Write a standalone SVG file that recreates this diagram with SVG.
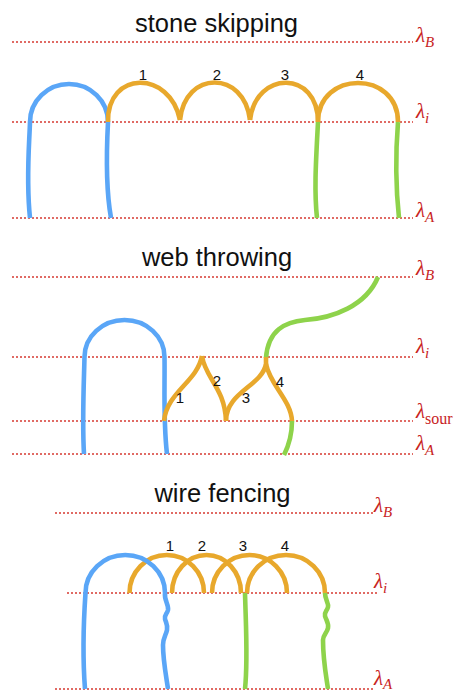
<svg xmlns="http://www.w3.org/2000/svg" width="458" height="693" viewBox="0 0 458 693">
<style>
.title{font-family:"Liberation Sans",Arial,sans-serif;font-size:25.5px;fill:#111;text-anchor:middle}
.num{font-family:"Liberation Sans",Arial,sans-serif;font-size:15px;fill:#111;text-anchor:middle}
.lam{font-family:"Liberation Serif","Times New Roman",serif;font-style:italic;font-size:21px;fill:#c8231e}
.sub{font-size:15px}
.subr{font-size:16px;font-style:normal}
.lvl{stroke:#d63a32;stroke-width:1.3;stroke-dasharray:2 2;fill:none}
.c{fill:none;stroke-width:4.6;stroke-linejoin:round;stroke-linecap:butt}
.blue{stroke:#5aa6f7}
.orange{stroke:#e8a82c}
.green{stroke:#8ed34b}
</style>
<rect width="458" height="693" fill="#fff"/>

<!-- Section 1: stone skipping -->
<g id="stone-skipping">
  <text class="title" x="216.5" y="31.5">stone skipping</text>
  <g id="levels-1">
    <line class="lvl" x1="12" y1="42" x2="413" y2="42"/>
    <line class="lvl" x1="12" y1="122" x2="413" y2="122"/>
    <line class="lvl" x1="12" y1="218" x2="413" y2="218"/>
    <text class="lam" x="416" y="42">λ<tspan class="sub" dy="5">B</tspan></text>
    <text class="lam" x="416" y="118">λ<tspan class="sub" dy="5">i</tspan></text>
    <text class="lam" x="416" y="217">λ<tspan class="sub" dy="5">A</tspan></text>
  </g>
  <g id="connectors-1">
    <path class="c blue" d="M30,218 C26,180 29,150 30,122 A39,38 0 0 1 108,122 C106,160 106,190 111,218"/>
    <path class="c green" d="M318,122 C316,160 314,190 317,218"/>
    <path class="c green" d="M398,122 C395,160 396,190 399,218"/>
    <path class="c orange" d="M108,122 C107,70 170,70 180,120"/>
    <path class="c orange" d="M180,120 C185,70 244,70 250,120"/>
    <path class="c orange" d="M250,120 C256,70 318,70 318,122"/>
    <path class="c orange" d="M318,122 C318,70 398,70 398,122"/>
  </g>
  <text class="num" x="143" y="80">1</text>
  <text class="num" x="217" y="80">2</text>
  <text class="num" x="285" y="80">3</text>
  <text class="num" x="360" y="80">4</text>
</g>

<!-- Section 2: web throwing -->
<g id="web-throwing">
  <text class="title" x="217" y="265.5">web throwing</text>
  <g id="levels-2">
    <line class="lvl" x1="12" y1="277" x2="413" y2="277"/>
    <line class="lvl" x1="12" y1="357" x2="413" y2="357"/>
    <line class="lvl" x1="12" y1="421" x2="413" y2="421"/>
    <line class="lvl" x1="12" y1="454" x2="413" y2="454"/>
    <text class="lam" x="416" y="275">λ<tspan class="sub" dy="5">B</tspan></text>
    <text class="lam" x="416" y="353">λ<tspan class="sub" dy="5">i</tspan></text>
    <text class="lam" x="416" y="418">λ<tspan class="subr" dy="6">sour</tspan></text>
    <text class="lam" x="416" y="450">λ<tspan class="sub" dy="5">A</tspan></text>
  </g>
  <g id="connectors-2">
    <path class="c blue" d="M84,454 C82,420 84,380 84.5,357 A40,37 0 0 1 164.5,357 C165,385 163,420 167,454"/>
    <path class="c green" d="M266,358 C268,330 285,322 305,320 C333,318 366,306 378,277"/>
    <path class="c green" d="M292,421 C292,435 288,447 284,455"/>
    <path class="c orange" d="M164,421 C167,392 197,382 202,356"/>
    <path class="c orange" d="M202,356 C205,378 225,388 226,421"/>
    <path class="c orange" d="M226,421 C226,392 262,386 266,364 L266,357"/>
    <path class="c orange" d="M266,364 C270,385 291,400 292,421"/>
  </g>
  <text class="num" x="180" y="403">1</text>
  <text class="num" x="217" y="386">2</text>
  <text class="num" x="246" y="403">3</text>
  <text class="num" x="280" y="387">4</text>
</g>

<!-- Section 3: wire fencing -->
<g id="wire-fencing">
  <text class="title" x="222.5" y="502">wire fencing</text>
  <g id="levels-3">
    <line class="lvl" x1="55" y1="513" x2="373" y2="513"/>
    <line class="lvl" x1="67" y1="593" x2="377" y2="593"/>
    <line class="lvl" x1="55" y1="689" x2="373" y2="689"/>
    <text class="lam" x="374" y="512">λ<tspan class="sub" dy="5">B</tspan></text>
    <text class="lam" x="374" y="588">λ<tspan class="sub" dy="5">i</tspan></text>
    <text class="lam" x="374" y="685">λ<tspan class="sub" dy="4">A</tspan></text>
  </g>
  <g id="connectors-3">
    <path class="c orange" d="M129.5,593 A37.25,38 0 0 1 204,593"/>
    <path class="c orange" d="M172,593 A34.5,38 0 0 1 241,593"/>
    <path class="c orange" d="M212,593 A37.5,38 0 0 1 287,593"/>
    <path class="c orange" d="M247,593 A39,38 0 0 1 325,593"/>
    <path class="c blue" d="M85,689 C82,650 84,615 85.5,593 A39.75,38 0 0 1 165,593 C164,600 169,605 168,610 C167,614 164,615 165,619 C166,623 168,625 167,630 C166,635 163,638 163,645 C163,660 166,675 168,689"/>
    <path class="c green" d="M245,593 C246,630 248,660 245,689"/>
    <path class="c green" d="M325,593 C325,600 329,603 328,607 C327,611 324,612 325,616 C326,620 329,623 328,628 C327,633 323,635 323,640 C323,660 326,675 328,689"/>
  </g>
  <text class="num" x="170" y="551">1</text>
  <text class="num" x="202" y="551">2</text>
  <text class="num" x="243" y="551">3</text>
  <text class="num" x="285" y="551">4</text>
</g>
</svg>
